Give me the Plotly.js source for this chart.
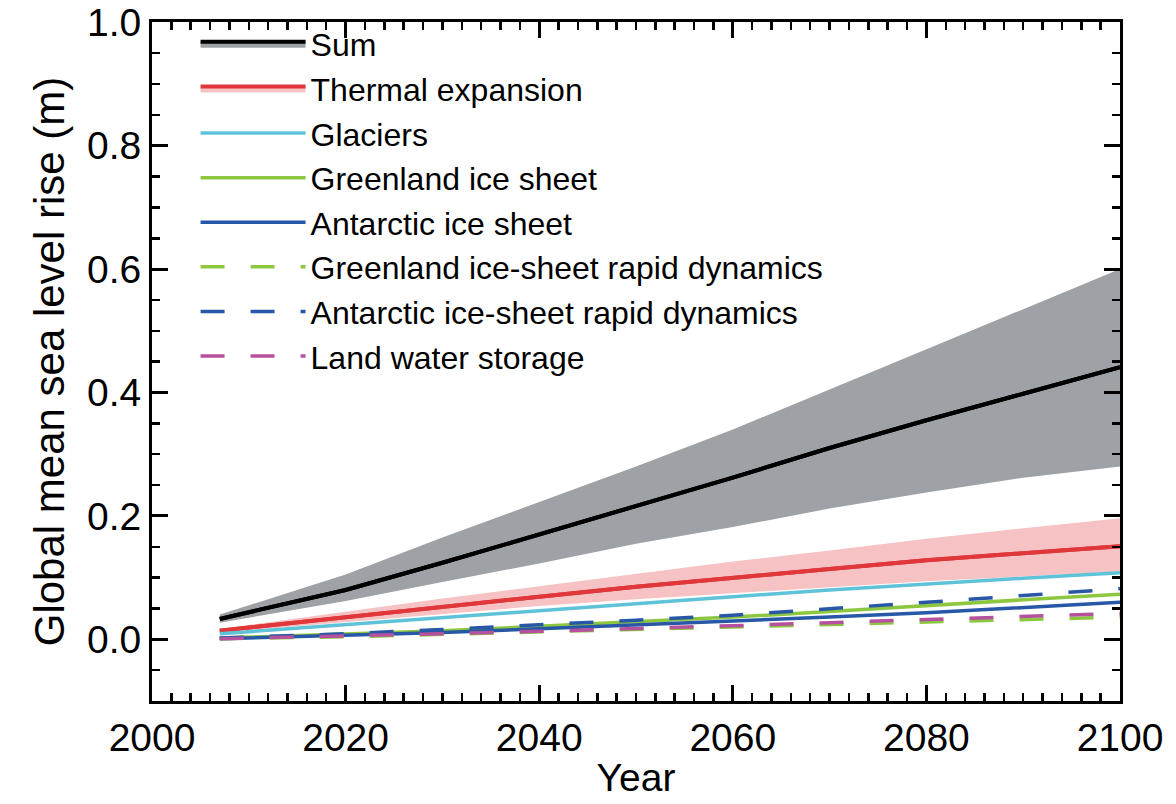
<!DOCTYPE html>
<html>
<head>
<meta charset="utf-8">
<script src="https://cdn.plot.ly/plotly-3.0.1.min.js"></script>
<style>html,body{margin:0;padding:0;background:#fff;}#chart{width:1176px;height:804px;}</style>
</head>
<body>
<div id="chart"></div>
<script>
const years = [2007, 2020, 2030, 2040, 2050, 2060, 2070, 2080, 2090, 2100];

const sumMid   = [0.033, 0.080, 0.124, 0.170, 0.216, 0.262, 0.310, 0.355, 0.398, 0.441];
const sumLow   = [0.027, 0.062, 0.093, 0.123, 0.155, 0.182, 0.212, 0.238, 0.262, 0.280];
const sumHigh  = [0.040, 0.105, 0.165, 0.222, 0.280, 0.340, 0.405, 0.470, 0.535, 0.600];

const thermMid  = [0.014, 0.036, 0.053, 0.069, 0.085, 0.100, 0.114, 0.128, 0.140, 0.151];
const thermLow  = [0.011, 0.028, 0.041, 0.054, 0.065, 0.075, 0.084, 0.094, 0.102, 0.110];
const thermHigh = [0.017, 0.045, 0.066, 0.086, 0.106, 0.126, 0.144, 0.163, 0.180, 0.196];

const glaciers       = [0.009, 0.024, 0.035, 0.047, 0.058, 0.069, 0.080, 0.090, 0.099, 0.108];
const greenlandSMB   = [0.002, 0.008, 0.014, 0.021, 0.028, 0.036, 0.045, 0.055, 0.064, 0.073];
const antarcticSMB   = [0.001, 0.006, 0.011, 0.017, 0.023, 0.030, 0.036, 0.043, 0.051, 0.060];
const greenlandDyn   = [0.001, 0.004, 0.008, 0.012, 0.016, 0.020, 0.024, 0.028, 0.032, 0.036];
const antarcticDyn   = [0.002, 0.009, 0.016, 0.023, 0.031, 0.039, 0.049, 0.060, 0.071, 0.082];
const landWater      = [0.001, 0.005, 0.009, 0.013, 0.017, 0.022, 0.027, 0.032, 0.037, 0.042];

const names = ['Sum', 'Thermal expansion', 'Glaciers', 'Greenland ice sheet', 'Antarctic ice sheet',
  'Greenland ice-sheet rapid dynamics', 'Antarctic ice-sheet rapid dynamics', 'Land water storage'];

const grey = '#9ea1a5', pink = '#f7c2c3', red = '#e0373a', cyan = '#5ec3d8',
      green = '#8dc63f', blue = '#2757a6', magenta = '#b6519f';
const dash = '24px,26px';

const traces = [
  {x: years, y: sumLow, mode: 'lines', line: {width: 0, color: grey}, showlegend: false, hoverinfo: 'skip'},
  {x: years, y: sumMid, mode: 'lines', name: names[0], line: {width: 4, color: '#000'}, fill: 'tonexty', fillcolor: grey},
  {x: years, y: sumHigh, mode: 'lines', line: {width: 0, color: grey}, fill: 'tonexty', fillcolor: grey, showlegend: false, hoverinfo: 'skip'},
  {x: years, y: sumMid, mode: 'lines', line: {width: 4, color: '#000'}, showlegend: false},
  {x: years, y: thermLow, mode: 'lines', line: {width: 0, color: pink}, showlegend: false, hoverinfo: 'skip'},
  {x: years, y: thermMid, mode: 'lines', name: names[1], line: {width: 4, color: red}, fill: 'tonexty', fillcolor: pink},
  {x: years, y: thermHigh, mode: 'lines', line: {width: 0, color: pink}, fill: 'tonexty', fillcolor: pink, showlegend: false, hoverinfo: 'skip'},
  {x: years, y: thermMid, mode: 'lines', line: {width: 4, color: red}, showlegend: false},
  {x: years, y: glaciers, mode: 'lines', name: names[2], line: {width: 3.5, color: cyan}},
  {x: years, y: greenlandSMB, mode: 'lines', name: names[3], line: {width: 3.5, color: green}},
  {x: years, y: antarcticSMB, mode: 'lines', name: names[4], line: {width: 3.5, color: blue}},
  {x: years, y: greenlandDyn, mode: 'lines', name: names[5], line: {width: 3.5, color: green, dash: dash}},
  {x: years, y: antarcticDyn, mode: 'lines', name: names[6], line: {width: 3.5, color: blue, dash: dash}},
  {x: years, y: landWater, mode: 'lines', name: names[7], line: {width: 3.5, color: magenta, dash: dash}}
];

const font = 'Liberation Sans, Arial, Helvetica, sans-serif';

const layout = {
  width: 1176, height: 804,
  margin: {l: 152, r: 56, t: 22, b: 103},
  paper_bgcolor: '#fff', plot_bgcolor: '#fff',
  font: {family: font, color: '#000', size: 38},
  showlegend: true,
  legend: {
    x: 0.045, y: 1.008, xanchor: 'left', yanchor: 'top',
    traceorder: 'normal',
    bgcolor: 'rgba(0,0,0,0)', borderwidth: 0,
    font: {family: font, size: 32, color: '#000'},
    itemwidth: 105, tracegroupgap: 0
  },
  xaxis: {
    range: [2000, 2100], tick0: 2000, dtick: 20,
    showgrid: false, zeroline: false,
    showline: true, linecolor: '#000', linewidth: 3, mirror: 'ticks',
    ticks: 'inside', ticklen: 16, tickwidth: 3, tickcolor: '#000',
    ticklabeloverflow: 'allow',
    minor: {dtick: 2, ticks: 'inside', ticklen: 8, tickwidth: 2.5, tickcolor: '#000', showgrid: false},
    tickfont: {family: font, size: 39},
    title: {text: 'Year', font: {family: font, size: 39}, standoff: 6}
  },
  yaxis: {
    range: [-0.1, 1.0005], tick0: 0, dtick: 0.2, tickformat: '.1f',
    showgrid: false, zeroline: false,
    showline: true, linecolor: '#000', linewidth: 3, mirror: 'ticks',
    ticks: 'inside', ticklen: 16, tickwidth: 3, tickcolor: '#000',
    ticklabeloverflow: 'allow',
    minor: {dtick: 0.05, tick0: 0, ticks: 'inside', ticklen: 8, tickwidth: 2.5, tickcolor: '#000', showgrid: false},
    tickfont: {family: font, size: 39},
    title: {text: 'Global mean sea level rise (m)', font: {family: font, size: 42}, standoff: 10}
  }
};

Plotly.newPlot('chart', traces, layout, {displayModeBar: false, staticPlot: true});
</script>
</body>
</html>
